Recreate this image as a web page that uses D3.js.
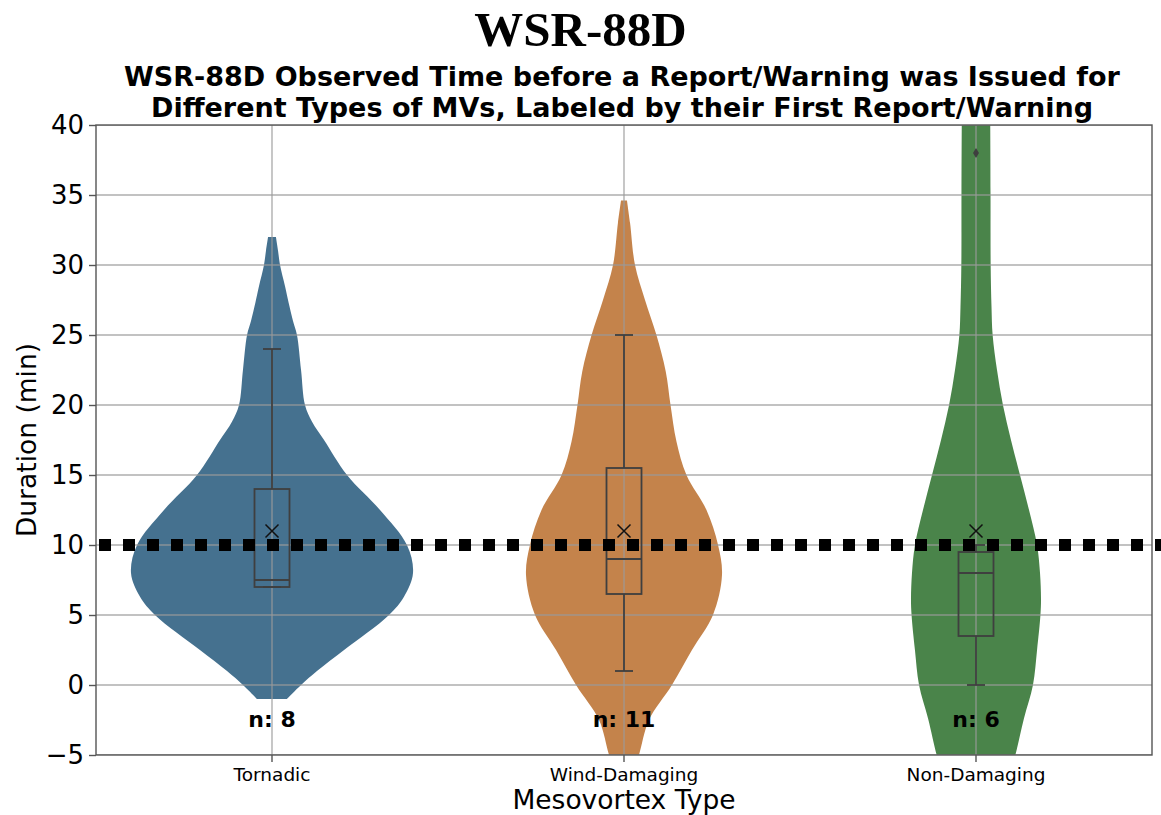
<!DOCTYPE html>
<html>
<head>
<meta charset="utf-8">
<script src="https://cdn.jsdelivr.net/npm/d3@7"></script>
<style>
  html, body { margin: 0; padding: 0; background: #fff; }
  svg { display: block; }
</style>
</head>
<body>
<svg id="chart" width="1161" height="815"></svg>
<script>
// ---- data ----
const categories = ["Tornadic", "Wind-Damaging", "Non-Damaging"];
const colors = ["#45718f", "#c4834b", "#4a844a"];
const counts = [8, 11, 6];

// kernel density profiles: [duration (min), relative density]
const densityTornadic = [
  [-1, 0.106], [0, 0.206], [1, 0.319], [2.5, 0.511], [5, 0.830], [6.3, 0.936],
  [8, 1.0], [10, 0.957], [12.5, 0.766], [15, 0.532], [17.5, 0.369], [18.8, 0.284],
  [20, 0.234], [22.5, 0.206], [25, 0.177], [26, 0.149], [27.3, 0.118],
  [28.5, 0.092], [30, 0.057], [31, 0.043], [32, 0.028]
];
const densityWind = [
  [-6, 0.07], [-5, 0.106], [-2.5, 0.177], [0, 0.340], [2.5, 0.482], [5, 0.631],
  [7.85, 0.695], [10, 0.667], [12.5, 0.585], [15, 0.443], [17.4, 0.372],
  [20, 0.330], [22.4, 0.296], [25, 0.230], [27.5, 0.149], [30, 0.078],
  [33, 0.043], [34.6, 0.021]
];
const densityNon = [
  [-6, 0.248], [-5, 0.279], [-2.4, 0.340], [0, 0.404], [2.5, 0.433], [5, 0.457],
  [6.15, 0.461], [8, 0.454], [10, 0.433], [12.5, 0.376], [15, 0.312],
  [17.5, 0.248], [20, 0.191], [22.5, 0.149], [25, 0.118], [27, 0.110],
  [30, 0.104], [35, 0.103], [40, 0.101], [42, 0.099]
];
const densities = [densityTornadic, densityWind, densityNon];

// box-plot statistics
const q1 = [7, 6.5, 3.5];
const medians = [7.5, 9, 8];
const q3 = [14, 15.5, 9.5];
const whiskerLow = [7, 1, 0];
const whiskerHigh = [24, 25, 10];
const means = [11, 11, 11];
const outliers = [[], [], [38]];

const threshold = 10;
const yTicks = [-5, 0, 5, 10, 15, 20, 25, 30, 35, 40];

// ---- layout ----
const svg = d3.select("#chart");
const pLeft = 96, pRight = 1152, pTop = 125, pBottom = 755;

const x = d3.scaleBand().domain(categories).range([pLeft, pRight]).paddingInner(0).paddingOuter(0);
const y = d3.scaleLinear().domain([-5, 40]).range([pBottom, pTop]);
const w = d3.scaleLinear().domain([0, 1]).range([0, 141]);
const cx = c => x(c) + x.bandwidth() / 2;

svg.append("defs").append("clipPath").attr("id", "plotClip")
  .append("rect").attr("x", pLeft).attr("y", pTop)
  .attr("width", pRight - pLeft).attr("height", pBottom - pTop);

const plot = svg.append("g").attr("clip-path", "url(#plotClip)");

// violins
categories.forEach((c, i) => {
  const area = d3.area()
    .y(d => y(d[0]))
    .x0(d => cx(c) - w(d[1]))
    .x1(d => cx(c) + w(d[1]))
    .curve(d3.curveCatmullRom);
  plot.append("path")
    .datum(densities[i])
    .attr("d", area)
    .attr("fill", colors[i]);
});

// grid
const grid = plot.append("g").attr("stroke", "#9a9a9a").attr("stroke-opacity", 0.8).attr("stroke-width", 1.4);
yTicks.forEach(t => {
  grid.append("line").attr("x1", pLeft).attr("x2", pRight).attr("y1", y(t)).attr("y2", y(t));
});
categories.forEach(c => {
  grid.append("line").attr("x1", cx(c)).attr("x2", cx(c)).attr("y1", pTop).attr("y2", pBottom);
});

// box plots
const boxHalf = 17.5, capHalf = 9;
const boxG = plot.append("g").attr("stroke", "#3f3f3f").attr("stroke-width", 1.8).attr("fill", "none");
categories.forEach((c, i) => {
  const m = cx(c);
  boxG.append("rect")
    .attr("x", m - boxHalf).attr("width", boxHalf * 2)
    .attr("y", y(q3[i])).attr("height", y(q1[i]) - y(q3[i]));
  boxG.append("line").attr("x1", m - boxHalf).attr("x2", m + boxHalf)
    .attr("y1", y(medians[i])).attr("y2", y(medians[i]));
  if (whiskerHigh[i] > q3[i]) {
    boxG.append("line").attr("x1", m).attr("x2", m).attr("y1", y(q3[i])).attr("y2", y(whiskerHigh[i]));
  }
  boxG.append("line").attr("x1", m - capHalf).attr("x2", m + capHalf)
    .attr("y1", y(whiskerHigh[i])).attr("y2", y(whiskerHigh[i]));
  if (whiskerLow[i] < q1[i]) {
    boxG.append("line").attr("x1", m).attr("x2", m).attr("y1", y(q1[i])).attr("y2", y(whiskerLow[i]));
  }
  boxG.append("line").attr("x1", m - capHalf).attr("x2", m + capHalf)
    .attr("y1", y(whiskerLow[i])).attr("y2", y(whiskerLow[i]));

  // outliers as thin diamonds
  outliers[i].forEach(v => {
    const oy = y(v);
    plot.append("path")
      .attr("d", `M${m},${oy - 5}L${m + 3},${oy}L${m},${oy + 5}L${m - 3},${oy}Z`)
      .attr("fill", "#3f3f3f");
  });

  // mean marker
  const my = y(means[i]), s = 6.5;
  plot.append("path")
    .attr("d", `M${m - s},${my - s}L${m + s},${my + s}M${m - s},${my + s}L${m + s},${my - s}`)
    .attr("stroke", "#111").attr("stroke-width", 1.5).attr("fill", "none");
});

// 10-minute reference line
svg.append("line")
  .attr("x1", 99).attr("x2", 1161)
  .attr("y1", y(threshold)).attr("y2", y(threshold))
  .attr("stroke", "#000").attr("stroke-width", 12)
  .attr("stroke-dasharray", "12,12");

// sample counts
categories.forEach((c, i) => {
  svg.append("text")
    .attr("x", cx(c)).attr("y", y(-3))
    .attr("text-anchor", "middle")
    .attr("font-family", "DejaVu Sans").attr("font-weight", "bold").attr("font-size", 22)
    .attr("fill", "#000")
    .text("n: " + counts[i]);
});

// spines
svg.append("rect").attr("x", pLeft).attr("y", pTop)
  .attr("width", pRight - pLeft).attr("height", pBottom - pTop)
  .attr("fill", "none").attr("stroke", "#555").attr("stroke-width", 1.4);

// axes
const yAxis = d3.axisLeft(y).tickValues(yTicks).tickSize(7).tickPadding(5)
  .tickFormat(d => d < 0 ? "\u2212" + Math.abs(d) : d);
const yg = svg.append("g").attr("transform", `translate(${pLeft},0)`).call(yAxis);
yg.select(".domain").remove();
yg.selectAll("line").attr("stroke", "#555").attr("stroke-width", 1.4);
yg.selectAll("text").attr("font-family", "DejaVu Sans").attr("font-size", 26).attr("fill", "#000");

const xAxis = d3.axisBottom(x).tickSize(7).tickPadding(6);
const xg = svg.append("g").attr("transform", `translate(0,${pBottom})`).call(xAxis);
xg.select(".domain").remove();
xg.selectAll("line").attr("stroke", "#555").attr("stroke-width", 1.4);
xg.selectAll("text").attr("font-family", "DejaVu Sans").attr("font-size", 18.5).attr("fill", "#000");

// axis titles
svg.append("text")
  .attr("x", (pLeft + pRight) / 2).attr("y", 809)
  .attr("text-anchor", "middle")
  .attr("font-family", "DejaVu Sans").attr("font-size", 26.5)
  .text("Mesovortex Type");

svg.append("text")
  .attr("transform", `translate(36,${(pTop + pBottom) / 2}) rotate(-90)`)
  .attr("text-anchor", "middle")
  .attr("font-family", "DejaVu Sans").attr("font-size", 26.5)
  .text("Duration (min)");

// titles
svg.append("text")
  .attr("x", 580.5).attr("y", 46)
  .attr("text-anchor", "middle")
  .attr("font-family", "Liberation Serif").attr("font-weight", "bold").attr("font-size", 49)
  .text("WSR-88D");

const sub = svg.append("text")
  .attr("text-anchor", "middle")
  .attr("font-family", "DejaVu Sans").attr("font-weight", "bold").attr("font-size", 27);
sub.append("tspan").attr("x", 622).attr("y", 86)
  .text("WSR-88D Observed Time before a Report/Warning was Issued for");
sub.append("tspan").attr("x", 622).attr("y", 117)
  .text("Different Types of MVs, Labeled by their First Report/Warning");
</script>
</body>
</html>
